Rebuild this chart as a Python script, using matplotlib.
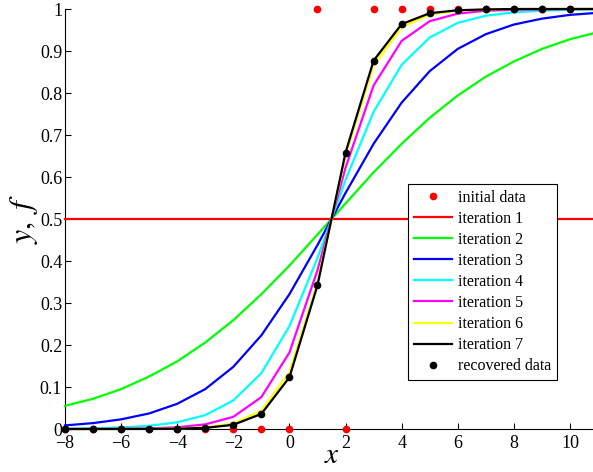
import numpy as np
import matplotlib
matplotlib.use("Agg")
import matplotlib.pyplot as plt

plt.rcParams['font.family'] = ['Liberation Serif', 'DejaVu Serif']
plt.rcParams['mathtext.fontset'] = 'stix'

# Grid the curves are evaluated on
x_grid = [-8, -7, -6, -5, -4, -3, -2, -1, 0, 1, 2, 3, 4, 5, 6, 7, 8, 9, 10, 11]

# Fitted curve after each iteration
iter1 = [0.5] * 20
iter2 = [0.055, 0.072, 0.095, 0.125, 0.161, 0.206, 0.259, 0.321, 0.389, 0.463,
         0.537, 0.611, 0.679, 0.741, 0.794, 0.839, 0.875, 0.905, 0.928, 0.945]
iter3 = [0.0086, 0.014, 0.023, 0.037, 0.060, 0.095, 0.148, 0.223, 0.321, 0.438,
         0.562, 0.679, 0.777, 0.852, 0.905, 0.940, 0.963, 0.977, 0.986, 0.991]
iter4 = [0.0008, 0.0017, 0.0036, 0.0076, 0.016, 0.033, 0.068, 0.133, 0.245, 0.407,
         0.593, 0.755, 0.867, 0.932, 0.967, 0.984, 0.992, 0.996, 0.998, 0.999]
iter5 = [0.0001, 0.0002, 0.0006, 0.0015, 0.0041, 0.011, 0.029, 0.076, 0.182, 0.378,
         0.622, 0.818, 0.924, 0.971, 0.989, 0.996, 0.998, 0.999, 1.0, 1.0]
iter6 = [0.0, 0.0, 0.0001, 0.0003, 0.0011, 0.0038, 0.013, 0.043, 0.135, 0.350,
         0.650, 0.865, 0.957, 0.987, 0.996, 0.999, 1.0, 1.0, 1.0, 1.0]
iter7 = [0.0, 0.0, 0.0001, 0.0002, 0.0007, 0.0027, 0.010, 0.036, 0.123, 0.342,
         0.658, 0.877, 0.964, 0.990, 0.997, 0.999, 1.0, 1.0, 1.0, 1.0]

# Initial labelled data
x_init = [-8, -7, -6, -5, -4, -3, -2, -1, 0, 2, 1, 3, 4, 5, 6, 7, 8, 9, 10]
y_init = [0, 0, 0, 0, 0, 0, 0, 0, 0, 0, 1, 1, 1, 1, 1, 1, 1, 1, 1]

# Recovered data (final curve at the sample points)
x_rec = x_grid[:-1]
y_rec = iter7[:-1]

iterations = [iter1, iter2, iter3, iter4, iter5, iter6, iter7]
colors = ['#ff0000', '#00ff00', '#0000ff', '#00ffff', '#ff00ff', '#ffff00', '#000000']

fig = plt.figure(figsize=(5.93, 4.72), dpi=100)
ax = fig.add_axes([65 / 593, 43 / 472, 533 / 593, 420 / 472])

ax.plot(x_init, y_init, 'o', color='#ff0000', markersize=4.5, label='initial data', clip_on=False, zorder=3)
for i, (vals, c) in enumerate(zip(iterations, colors)):
    ax.plot(x_grid, vals, '-', color=c, lw=1.6, label=f'iteration {i + 1}', clip_on=False, zorder=4)
ax.plot(x_rec, y_rec, 'o', color='k', markersize=4.5, label='recovered data', clip_on=False, zorder=5)

ax.set_xlim(-8, 11)
ax.set_ylim(0, 1)
ax.set_xticks(np.arange(-8, 11, 2))
ax.set_yticks(np.arange(0, 1.01, 0.1))
ax.set_yticklabels(['0', '0.1', '0.2', '0.3', '0.4', '0.5', '0.6', '0.7', '0.8', '0.9', '1'])
ax.tick_params(direction='in', length=4, width=0.8, labelsize=13)
ax.tick_params(axis='x', pad=4)
ax.tick_params(axis='y', pad=2)
ax.spines['top'].set_visible(False)
ax.spines['right'].set_visible(False)
for s in ['left', 'bottom']:
    ax.spines[s].set_linewidth(0.8)

ax.set_xlabel('$x$', fontsize=21, labelpad=-6)
ax.set_ylabel(r'$y,\;f$', fontsize=23, labelpad=0)

leg = ax.legend(loc='lower left', bbox_to_anchor=((408 - 65) / 533, (429 - 380) / 420),
                borderaxespad=0, fontsize=11.5, handlelength=2.4, labelspacing=0.32,
                handletextpad=0.4, fancybox=False, framealpha=1, edgecolor='k',
                borderpad=0.35)
leg.get_frame().set_linewidth(0.8)
leg.set_zorder(10)

plt.savefig('out.png', dpi=100)
